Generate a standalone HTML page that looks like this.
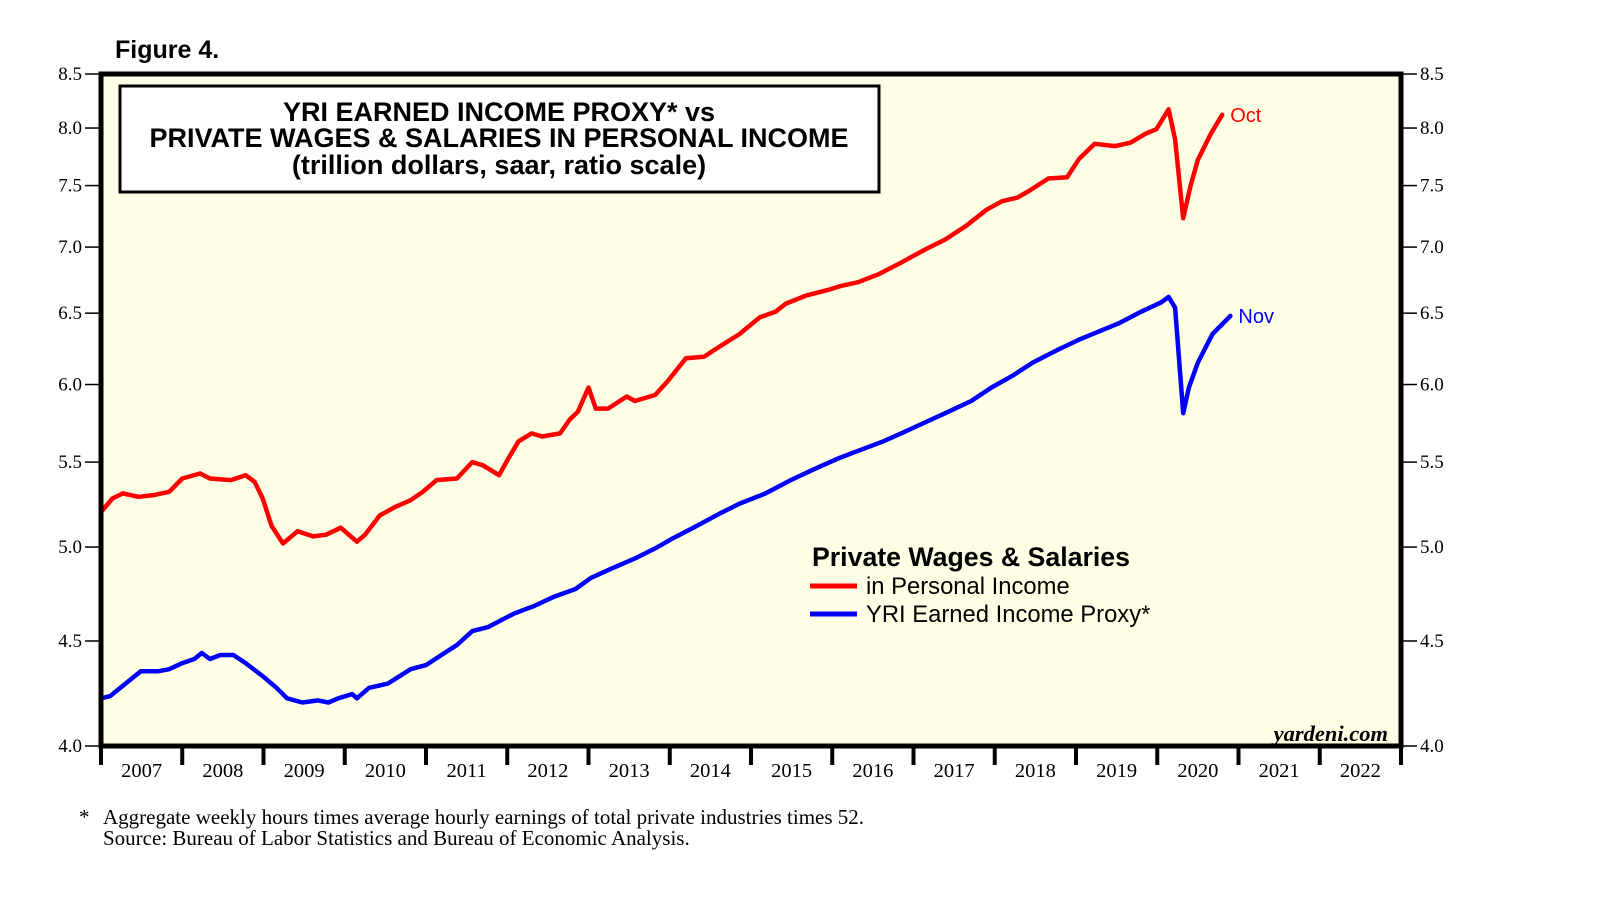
<!DOCTYPE html>
<html><head><meta charset="utf-8">
<style>
html,body{margin:0;padding:0;background:#fff;}
svg{display:block;}
</style></head>
<body>
<svg id="chart" width="1610" height="910" xmlns="http://www.w3.org/2000/svg">
<text x="115" y="58" font-family="Liberation Sans, sans-serif" font-weight="bold" font-size="25">Figure 4.</text>
<rect x="101" y="74" width="1300" height="672" fill="#ffffe6"/>
<g id="ticks"></g>
<g id="series"></g>
<rect x="101" y="74" width="1300" height="672" fill="none" stroke="#000" stroke-width="5"/>
<rect x="120" y="86" width="759" height="106" fill="#fff" stroke="#000" stroke-width="3"/>
<g font-family="Liberation Sans, sans-serif" font-weight="bold" font-size="27" text-anchor="middle">
<text x="499" y="121">YRI EARNED INCOME PROXY* vs</text>
<text x="499" y="147">PRIVATE WAGES &amp; SALARIES IN PERSONAL INCOME</text>
<text x="499" y="174">(trillion dollars, saar, ratio scale)</text>
</g>
<g font-family="Liberation Sans, sans-serif">
<text x="812" y="566" font-weight="bold" font-size="26.7">Private Wages &amp; Salaries</text>
<line x1="810" y1="586" x2="857" y2="586" stroke="#ff0000" stroke-width="5"/>
<text x="866" y="594" font-size="23.8">in Personal Income</text>
<line x1="810" y1="614" x2="857" y2="614" stroke="#0000ff" stroke-width="5"/>
<text x="866" y="622" font-size="23.8">YRI Earned Income Proxy*</text>
</g>
<text x="1388" y="741" text-anchor="end" font-family="Liberation Serif, serif" font-style="italic" font-weight="bold" font-size="22.5">yardeni.com</text>
<g font-family="Liberation Serif, serif" font-size="21">
<text x="79" y="824">*</text>
<text x="103" y="824">Aggregate weekly hours times average hourly earnings of total private industries times 52.</text>
<text x="103" y="845">Source: Bureau of Labor Statistics and Bureau of Economic Analysis.</text>
</g>
</svg>
<script>
const yTicks = [4.0,4.5,5.0,5.5,6.0,6.5,7.0,7.5,8.0,8.5];
const yearLabels = ["2007","2008","2009","2010","2011","2012","2013","2014","2015","2016","2017","2018","2019","2020","2021","2022"];
const wagesDates = [2007.0,2007.14,2007.27,2007.46,2007.65,2007.84,2008.0,2008.22,2008.34,2008.6,2008.78,2008.89,2008.99,2009.1,2009.24,2009.42,2009.61,2009.77,2009.95,2010.05,2010.15,2010.25,2010.43,2010.62,2010.81,2010.96,2011.13,2011.38,2011.57,2011.7,2011.9,2012.01,2012.14,2012.3,2012.43,2012.65,2012.77,2012.87,2013.0,2013.09,2013.24,2013.47,2013.57,2013.82,2013.97,2014.2,2014.42,2014.61,2014.86,2015.11,2015.3,2015.43,2015.68,2015.94,2016.1,2016.32,2016.57,2016.82,2017.14,2017.39,2017.65,2017.9,2018.09,2018.28,2018.41,2018.66,2018.89,2019.04,2019.23,2019.48,2019.67,2019.86,2019.99,2020.14,2020.22,2020.32,2020.41,2020.5,2020.66,2020.8];
const wagesValues = [5.2,5.28,5.31,5.29,5.3,5.32,5.4,5.43,5.4,5.39,5.42,5.38,5.28,5.12,5.02,5.09,5.06,5.07,5.11,5.07,5.03,5.07,5.18,5.23,5.27,5.32,5.39,5.4,5.5,5.48,5.42,5.52,5.63,5.68,5.66,5.68,5.77,5.82,5.98,5.84,5.84,5.92,5.89,5.93,6.02,6.18,6.19,6.26,6.35,6.47,6.51,6.57,6.63,6.67,6.70,6.73,6.79,6.87,6.98,7.06,7.17,7.3,7.37,7.4,7.45,7.56,7.57,7.73,7.86,7.84,7.87,7.95,7.99,8.17,7.9,7.23,7.5,7.72,7.95,8.12];
const proxyDates = [2007.0,2007.11,2007.27,2007.49,2007.71,2007.84,2008.0,2008.15,2008.24,2008.34,2008.47,2008.63,2008.78,2009.01,2009.16,2009.29,2009.48,2009.67,2009.8,2009.92,2010.09,2010.15,2010.3,2010.53,2010.81,2011.0,2011.19,2011.38,2011.57,2011.76,2012.08,2012.33,2012.58,2012.84,2013.03,2013.28,2013.59,2013.85,2014.04,2014.29,2014.61,2014.86,2015.18,2015.49,2015.75,2016.06,2016.32,2016.63,2016.89,2017.14,2017.39,2017.71,2017.96,2018.22,2018.47,2018.78,2019.04,2019.29,2019.54,2019.8,2020.05,2020.14,2020.22,2020.32,2020.39,2020.5,2020.68,2020.9];
const proxyValues = [4.22,4.23,4.28,4.35,4.35,4.36,4.39,4.41,4.44,4.41,4.43,4.43,4.39,4.32,4.27,4.22,4.2,4.21,4.2,4.22,4.24,4.22,4.27,4.29,4.36,4.38,4.43,4.48,4.55,4.57,4.64,4.68,4.73,4.77,4.83,4.88,4.94,5.0,5.05,5.11,5.19,5.25,5.31,5.39,5.45,5.52,5.57,5.63,5.69,5.75,5.81,5.89,5.98,6.06,6.15,6.24,6.31,6.37,6.43,6.51,6.58,6.62,6.54,5.81,5.98,6.15,6.35,6.48];

const NS='http://www.w3.org/2000/svg';
const L=101,R=1401,T=74,B=746,Y0=2007,Y1=2023;
function xS(t){return L+(t-Y0)/(Y1-Y0)*(R-L);}
function yS(v){return B-(Math.log(v)-Math.log(4))/(Math.log(8.5)-Math.log(4))*(B-T);}
function mk(tag,attrs,parent){const e=document.createElementNS(NS,tag);for(const k in attrs)e.setAttribute(k,attrs[k]);parent.appendChild(e);return e;}
const tg=document.getElementById('ticks');
yTicks.forEach(v=>{
  const y=yS(v);
  let l=mk('line',{x1:L-16,x2:L,y1:y,y2:y,stroke:'#000','stroke-width':1.5},tg);
  
  
  let r=mk('line',{x1:R,x2:R+16,y1:y,y2:y,stroke:'#000','stroke-width':1.5},tg);
  
  
  let t1=mk('text',{x:L-19,y:y+6,'text-anchor':'end','font-family':'Liberation Serif, serif','font-size':19},tg);
  t1.textContent=v.toFixed(1);
  
  
  let t2=mk('text',{x:R+19,y:y+6,'font-family':'Liberation Serif, serif','font-size':19},tg);
  t2.textContent=v.toFixed(1);
  
  
});
yearLabels.forEach((lab,i)=>{
  const yr=parseInt(lab);
  const x=xS(yr);
  let l=mk('line',{x1:x,x2:x,y1:B,y2:B+19,stroke:'#000','stroke-width':4},tg);
  
  
  let t=mk('text',{x:xS(yr+0.5),y:777,'text-anchor':'middle','font-family':'Liberation Serif, serif','font-size':20.5},tg);
  t.textContent=lab;
  
  
});
let le=mk('line',{x1:R,x2:R,y1:B,y2:B+19,stroke:'#000','stroke-width':4},tg);



const sg=document.getElementById('series');
function line(d,v,color,name){
  const pts=d.map((t,i)=>xS(t).toFixed(1)+','+yS(v[i]).toFixed(1)).join(' ');
  const p=mk('polyline',{points:pts,fill:'none',stroke:color,'stroke-width':4.5,'stroke-linejoin':'round','stroke-linecap':'round'},sg);
  
  
}
line(wagesDates,wagesValues,'#ff0000','wages-line');
line(proxyDates,proxyValues,'#0000ff','proxy-line');
const lw=wagesDates.length-1,lp=proxyDates.length-1;
let a=mk('text',{x:xS(wagesDates[lw])+8,y:yS(wagesValues[lw])+7,fill:'#ff0000','font-family':'Liberation Sans, sans-serif','font-size':20},sg);
a.textContent='Oct';


let b=mk('text',{x:xS(proxyDates[lp])+8,y:yS(proxyValues[lp])+7,fill:'#0000ff','font-family':'Liberation Sans, sans-serif','font-size':20},sg);
b.textContent='Nov';


</script>
</body></html>
